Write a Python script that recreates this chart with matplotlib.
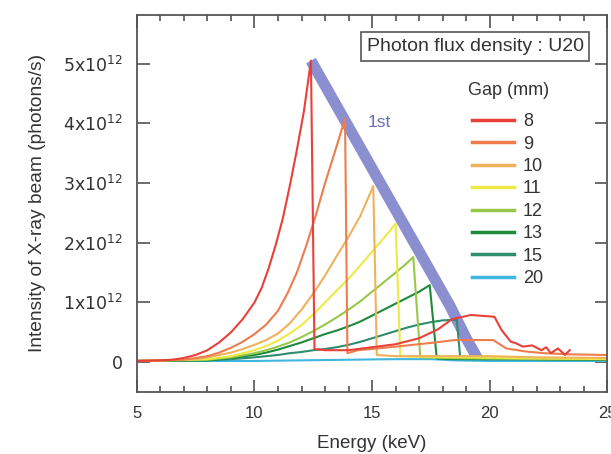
import matplotlib
matplotlib.use('Agg')
from matplotlib import pyplot as plt
from matplotlib.ticker import MultipleLocator, FixedLocator
import numpy as np

plt.rcParams['font.family'] = ['Liberation Sans', 'DejaVu Sans']
plt.rcParams['mathtext.default'] = 'regular'

# photon flux curves of the U20 undulator, intensity in units of 1e12 photons/s
gap_8_e = [5, 6, 6.5, 7, 7.5, 8, 8.5, 9, 9.5, 10, 10.3, 10.6, 10.9, 11.2, 11.5, 11.8, 12.1, 12.4,
           12.55, 13, 14, 15, 16, 17, 17.8, 18.4, 19.2, 20.2, 20.5, 20.9, 21.1, 21.4,
           21.8, 22.2, 22.4, 22.6, 22.9, 23.2, 23.4]
gap_8_i = [0.02, 0.03, 0.04, 0.07, 0.12, 0.2, 0.33, 0.5, 0.72, 1.0, 1.24, 1.57, 1.96, 2.4, 2.95, 3.55, 4.2, 5.05,
           0.22, 0.2, 0.2, 0.25, 0.3, 0.4, 0.55, 0.72, 0.79, 0.76, 0.54, 0.34, 0.32, 0.26,
           0.28, 0.2, 0.25, 0.15, 0.23, 0.12, 0.2]

gap_9_e = [5, 7, 8, 8.5, 9, 9.5, 10, 10.5, 11, 11.4, 11.8, 12.2, 12.6, 13.0, 13.4, 13.85,
           13.95, 14.4, 15.5, 16.5, 17.7, 18.5, 20.15, 20.7, 21.5, 22.3, 23.5, 25]
gap_9_i = [0.02, 0.04, 0.1, 0.16, 0.24, 0.34, 0.47, 0.63, 0.86, 1.15, 1.5, 1.95, 2.45, 3.0, 3.5, 4.08,
           0.15, 0.2, 0.24, 0.28, 0.33, 0.37, 0.37, 0.23, 0.18, 0.15, 0.13, 0.12]

gap_10_e = [5, 7.5, 8, 8.5, 9, 9.5, 10, 10.5, 11, 11.5, 12, 12.5, 13, 13.5, 14, 14.5, 15.05,
            15.2, 16, 18, 20, 22, 25]
gap_10_i = [0.02, 0.05, 0.08, 0.12, 0.16, 0.22, 0.29, 0.37, 0.48, 0.65, 0.88, 1.15, 1.45, 1.78, 2.1, 2.45, 2.95,
            0.12, 0.1, 0.1, 0.1, 0.08, 0.07]

gap_11_e = [5, 8, 9, 10, 10.5, 11, 11.5, 12, 12.5, 13, 13.5, 14, 14.5, 15, 15.5, 16.0,
            16.2, 17, 19, 21, 23, 25]
gap_11_i = [0.02, 0.05, 0.1, 0.2, 0.27, 0.36, 0.48, 0.62, 0.8, 1.0, 1.2, 1.4, 1.62, 1.85, 2.08, 2.32,
            0.1, 0.09, 0.08, 0.07, 0.06, 0.05]

gap_12_e = [5, 8, 9, 10, 10.5, 11, 11.5, 12, 12.5, 13, 13.5, 14, 14.5, 15, 15.5, 16, 16.4, 16.75,
            17.05, 18, 20, 22, 25]
gap_12_i = [0.02, 0.04, 0.08, 0.15, 0.2, 0.26, 0.33, 0.42, 0.52, 0.63, 0.75, 0.88, 1.02, 1.18, 1.34, 1.5, 1.63, 1.76,
            0.08, 0.07, 0.06, 0.05, 0.05]

gap_13_e = [5, 8, 9, 10, 10.5, 11, 11.5, 12, 12.5, 13, 13.5, 14, 14.5, 15, 15.5, 16, 16.5, 17, 17.45,
            17.75, 18.5, 20, 22, 25]
gap_13_i = [0.02, 0.03, 0.07, 0.12, 0.16, 0.21, 0.27, 0.33, 0.4, 0.47, 0.53, 0.6, 0.68, 0.78, 0.88, 0.98, 1.08, 1.18, 1.29,
            0.06, 0.05, 0.05, 0.05, 0.04]

gap_15_e = [5, 8, 9, 10, 11, 11.5, 12, 12.5, 13, 13.5, 14, 14.5, 15, 15.5, 16, 16.5, 17, 17.5, 18, 18.6,
            18.75, 19.5, 21, 23, 25]
gap_15_i = [0.02, 0.03, 0.05, 0.08, 0.12, 0.15, 0.17, 0.2, 0.22, 0.25, 0.29, 0.34, 0.4, 0.46, 0.52, 0.58, 0.63, 0.67, 0.7, 0.71,
            0.06, 0.05, 0.05, 0.04, 0.04]

gap_20_e = [5, 8, 10, 12, 14, 16, 17.5, 18.5, 20, 22, 25]
gap_20_i = [0.02, 0.02, 0.02, 0.03, 0.04, 0.05, 0.05, 0.03, 0.02, 0.02, 0.02]

# envelope of the 1st harmonic peaks
first_e = [12.4, 18.3, 19.0, 19.5]
first_i = [5.05, 0.95, 0.4, 0.05]

gaps = ['8', '9', '10', '11', '12', '13', '15', '20']
curves = [(gap_8_e, gap_8_i), (gap_9_e, gap_9_i), (gap_10_e, gap_10_i), (gap_11_e, gap_11_i),
          (gap_12_e, gap_12_i), (gap_13_e, gap_13_i), (gap_15_e, gap_15_i), (gap_20_e, gap_20_i)]
colors = ['#e8403a', '#ee7c4c', '#efb25a', '#eeea45', '#98c84a', '#1f8a3a', '#2f8c6c', '#3fb6e0']

y_ticks = [0, 1, 2, 3, 4, 5]
y_labels = ['0', '1x10$^{12}$', '2x10$^{12}$', '3x10$^{12}$', '4x10$^{12}$', '5x10$^{12}$']

scale = 1e12

fig = plt.figure(figsize=(6.11, 4.54), dpi=100)
ax = fig.add_axes([0.224, 0.1366, 0.77, 0.831])

ax.plot(first_e, np.array(first_i) * scale, color='#8b8fcf', lw=8, solid_capstyle='butt', zorder=1)

# draw the wide gaps first so the tall peaks end up on top
for gap, (e, i), c in reversed(list(zip(gaps, curves, colors))):
    ax.plot(e, np.array(i) * scale, color=c, lw=1.5, label=gap, zorder=2)

ax.set_xlim(5, 25)
ax.set_ylim(-0.5 * scale, 5.82 * scale)
ax.xaxis.set_major_locator(MultipleLocator(5))
ax.xaxis.set_minor_locator(MultipleLocator(1))
ax.yaxis.set_major_locator(FixedLocator([v * scale for v in y_ticks]))
ax.set_yticklabels(y_labels, fontfamily='DejaVu Sans', fontsize=12.5)

ax.tick_params(which='both', direction='in', top=True, right=True, colors='#444444',
               labelcolor='#333333', width=1.1)
ax.tick_params(axis='x', labelsize=12)
ax.tick_params(which='major', length=9, pad=10)
ax.tick_params(which='minor', length=4)
for s in ax.spines.values():
    s.set_color('#555555')
    s.set_linewidth(1.3)

ax.set_xlabel('Energy (keV)', fontsize=13.5, color='#333333', labelpad=10)
ax.set_ylabel('Intensity of X-ray beam (photons/s)', fontsize=13.8, color='#333333', labelpad=12)

ax.text(0.719, 0.915, 'Photon flux density : U20', transform=ax.transAxes, ha='center', va='center',
        fontsize=14, color='#333333',
        bbox=dict(boxstyle='square,pad=0.3', fc='white', ec='#555555', lw=1.2))
ax.text(14.8, 4.02 * scale, '1st', fontsize=12.5, color='#6a70b8', ha='left', va='center')

ax.text(0.791, 0.798, 'Gap (mm)', transform=ax.transAxes, ha='center', va='center',
        fontsize=13, color='#333333')
handles, labels = ax.get_legend_handles_labels()
leg = ax.legend(handles[::-1], labels[::-1], loc='upper left', bbox_to_anchor=(0.713, 0.739),
                frameon=False, fontsize=13, handlelength=2.3, handletextpad=0.5,
                labelspacing=0.3, borderpad=0, borderaxespad=0)
for line in leg.get_lines():
    line.set_linewidth(2.5)
for t in leg.get_texts():
    t.set_color('#333333')

fig.savefig('out.png', dpi=100)
